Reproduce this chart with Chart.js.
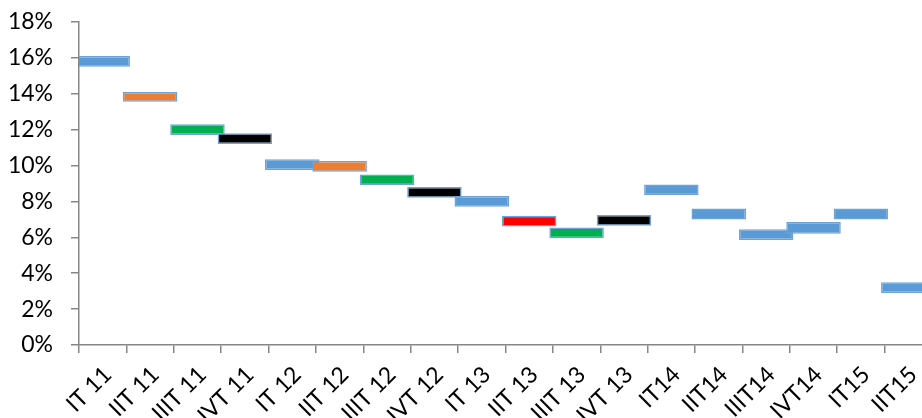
<!DOCTYPE html>
<html>
<head>
<meta charset="utf-8">
<script src="https://cdn.jsdelivr.net/npm/chart.js@4"></script>
<style>
  html, body { margin: 0; padding: 0; overflow: hidden; background: #fff; }
  #wrap { width: 940px; height: 418px; }
</style>
</head>
<body>
<div id="wrap"><canvas id="chart" width="940" height="418"></canvas></div>
<script>
  /* Data */
  const quarters = [
    'IT 11', 'IIT 11', 'IIIT 11', 'IVT 11',
    'IT 12', 'IIT 12', 'IIIT 12', 'IVT 12',
    'IT 13', 'IIT 13', 'IIIT 13', 'IVT 13',
    'IT14', 'IIT14', 'IIIT14', 'IVT14',
    'IT15', 'IIT15',
  ];
  const lowValues = [
    15.5, 13.55, 11.7, 11.2,
    9.75, 9.65, 8.9, 8.2,
    7.7, 6.6, 5.95, 6.65,
    8.35, 7.0, 5.85, 6.2,
    7.0, 2.9,
  ];
  const highValues = [
    16.1, 14.1, 12.3, 11.8,
    10.35, 10.25, 9.5, 8.8,
    8.3, 7.2, 6.55, 7.25,
    8.95, 7.6, 6.45, 6.85,
    7.6, 3.5,
  ];
  const barColors = [
    '#5B9BD5', '#ED7D31', '#00B050', '#000000',
    '#5B9BD5', '#ED7D31', '#00B050', '#000000',
    '#5B9BD5', '#FF0000', '#00B050', '#000000',
    '#5B9BD5', '#5B9BD5', '#5B9BD5', '#5B9BD5',
    '#5B9BD5', '#5B9BD5',
  ];
  const yMin = 0;
  const yMax = 18;
  const yStep = 2;

  const axisColor = '#868686';
  const labelFont = { family: 'Lato, "Open Sans", sans-serif', size: 23 };

  const ranges = quarters.map((q, i) => [lowValues[i], highValues[i]]);

  new Chart(document.getElementById('chart'), {
    type: 'bar',
    data: {
      labels: quarters,
      datasets: [{
        data: ranges,
        backgroundColor: barColors,
        borderColor: '#6FA3D8',
        borderWidth: 1.5,
        borderSkipped: false,
        barPercentage: 1.15,
        categoryPercentage: 1,
      }],
    },
    options: {
      responsive: false,
      animation: false,
      devicePixelRatio: 1,
      layout: { padding: { top: 0, right: 8, left: 0, bottom: 0 } },
      plugins: {
        legend: { display: false },
        tooltip: { enabled: false },
      },
      scales: {
        x: {
          offset: true,
          grid: {
            offset: true,
            drawOnChartArea: false,
            drawTicks: true,
            tickLength: 8,
            color: axisColor,
            lineWidth: 1.5,
          },
          border: { color: axisColor, width: 1.5 },
          ticks: {
            autoSkip: false,
            minRotation: 45,
            maxRotation: 45,
            padding: 8,
            labelOffset: 5,
            color: '#000',
            font: labelFont,
          },
          afterFit: (scale) => { scale.height = 73; },
        },
        y: {
          min: yMin,
          max: yMax,
          grid: {
            drawOnChartArea: false,
            tickLength: 8,
            color: axisColor,
            lineWidth: 1.5,
          },
          border: { color: axisColor, width: 1.5 },
          ticks: {
            stepSize: yStep,
            padding: 18,
            color: '#000',
            font: labelFont,
            callback: (v) => `${v}%`,
          },
          afterFit: (scale) => {
            // pin the plot box: left edge at 79px, top at ~22px
            scale.width = 79;
            scale.paddingTop = 22;
            scale.paddingBottom = 0;
          },
        },
      },
    },
  });
</script>
</body>
</html>
